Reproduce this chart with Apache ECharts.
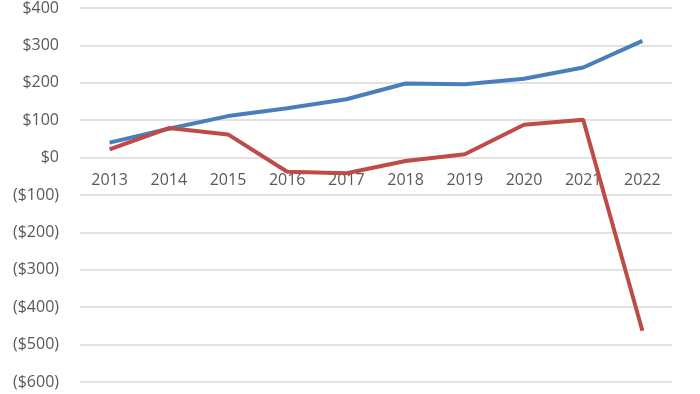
<!DOCTYPE html>
<html><head><meta charset="utf-8">
<script src="https://cdn.jsdelivr.net/npm/echarts@6/dist/echarts.min.js"></script>
<style>html,body{margin:0;padding:0;background:#fff}#c{width:700px;height:394px}</style>
</head><body><div id="c"></div>
<script>
const years = ['2013','2014','2015','2016','2017','2018','2019','2020','2021','2022'];
const blueSeries = [40, 77, 111, 132, 156, 198, 196, 211, 241, 312];
const redSeries = [22, 79, 62, -38, -42, -9, 9, 88, 101, -463];
const yMin = -600, yMax = 400, yStep = 100;

const gridTop = 4.5, gridBottom = 12, H = 394;
const plotH = H - gridTop - gridBottom;
const zeroOffset = -plotH * (0 - yMin) / (yMax - yMin);

const chart = echarts.init(document.getElementById('c'));
chart.setOption({
  animation: false,
  grid: {left: 80, right: 28, top: gridTop, bottom: gridBottom},
  xAxis: {
    type: 'category', data: years, boundaryGap: true,
    position: 'bottom', offset: zeroOffset,
    axisLine: {show: false, onZero: false},
    axisTick: {show: false},
    axisLabel: {color: '#595959', fontSize: 16, fontFamily: 'Open Sans', margin: 17}
  },
  yAxis: {
    type: 'value', min: yMin, max: yMax, interval: yStep,
    axisLine: {show: false}, axisTick: {show: false},
    splitLine: {lineStyle: {color: '#d9d9d9', width: 1.5}},
    axisLabel: {
      color: '#595959', fontSize: 16, fontFamily: 'Open Sans', margin: 21,
      formatter: v => v < 0 ? '($' + Math.abs(v) + ')' : '$' + v
    }
  },
  series: [
    {type: 'line', data: blueSeries, showSymbol: false, lineStyle: {color: '#4a7ebb', width: 4}, itemStyle: {color: '#4a7ebb'}},
    {type: 'line', data: redSeries, showSymbol: false, lineStyle: {color: '#be4b48', width: 4}, itemStyle: {color: '#be4b48'}}
  ]
});
</script></body></html>
